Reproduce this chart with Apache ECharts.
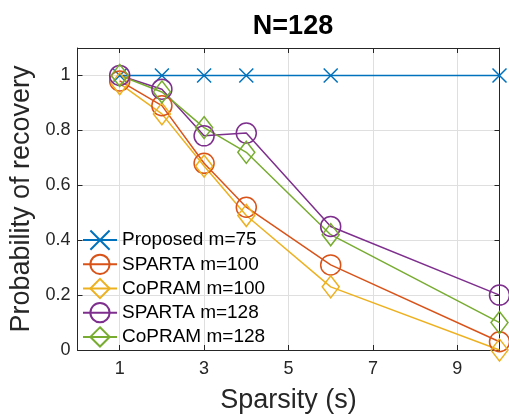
<!DOCTYPE html>
<html lang="en">
<head>
<meta charset="UTF-8">
<title>N=128</title>
<script src="https://cdn.jsdelivr.net/npm/echarts@6/dist/echarts.min.js"></script>
<style>
  html, body { margin: 0; padding: 0; background: #fff; }
</style>
</head>
<body>
<div id="main" style="width: 509px;height: 420px"></div>
<script type="text/javascript">
  // data
  var sparsity = [1, 2, 3, 4, 6, 10];
  var proposed75 = [1, 1, 1, 1, 1, 1];
  var sparta100 = [0.98, 0.89, 0.68, 0.52, 0.31, 0.03];
  var copram100 = [0.97, 0.86, 0.67, 0.49, 0.23, 0.00];
  var sparta128 = [1.00, 0.95, 0.78, 0.79, 0.45, 0.20];
  var copram128 = [1.00, 0.94, 0.81, 0.72, 0.42, 0.10];
  var xTicks = [1, 3, 5, 7, 9];
  var yTicks = [0, 0.2, 0.4, 0.6, 0.8, 1];

  var font = 'Liberation Sans';
  var axisColor = '#262626';
  var crossPath = 'path://M0,0L10,10M10,0L0,10';

  function pairs(vals) {
    return sparsity.map(function (x, i) { return [x, vals[i]]; });
  }

  function makeSeries(name, vals, color, symbol, size) {
    return {
      name: name,
      type: 'line',
      data: pairs(vals),
      clip: false,
      symbol: symbol,
      symbolSize: size,
      showAllSymbol: true,
      lineStyle: {color: color, width: 1.5},
      itemStyle: {color: 'none', borderColor: color, borderWidth: 1.5},
      emphasis: {disabled: true}
    };
  }

  var myChart = echarts.init(document.getElementById('main'));
  var option = {
    animation: false,
    title: {
      text: 'N=128',
      left: 288,
      textAlign: 'center',
      top: 8,
      textStyle: {fontFamily: font, fontSize: 27, fontWeight: 'bold', color: '#000'}
    },
    legend: {
      left: 80,
      top: 228,
      orient: 'vertical',
      itemWidth: 34,
      itemHeight: 24,
      itemGap: 0,
      padding: [0, 2, 0, 2],
      textStyle: {fontFamily: font, fontSize: 19, color: '#000'},
      data: ['Proposed m=75', 'SPARTA m=100', 'CoPRAM m=100', 'SPARTA m=128', 'CoPRAM m=128']
    },
    grid: {left: 77.5, right: 9.5, top: 48, bottom: 70, outerBoundsMode: 'none', containLabel: false},
    xAxis: [
      {
        type: 'value', min: 0, max: 10,
        name: 'Sparsity (s)', nameLocation: 'middle', nameGap: 37,
        nameTextStyle: {fontFamily: font, fontSize: 27, color: axisColor},
        axisLine: {onZero: false, lineStyle: {color: axisColor, width: 1}},
        axisTick: {inside: true, length: 5, customValues: xTicks, lineStyle: {color: axisColor}},
        axisLabel: {customValues: xTicks, fontFamily: font, fontSize: 18, color: axisColor, margin: 10},
        splitLine: {show: true, customValues: xTicks, lineStyle: {color: '#dfdfdf', width: 1}}
      },
      {
        type: 'value', min: 0, max: 10, position: 'top',
        axisLine: {onZero: false, lineStyle: {color: axisColor, width: 1}},
        axisTick: {inside: true, length: 5, customValues: xTicks, lineStyle: {color: axisColor}},
        axisLabel: {show: false},
        splitLine: {show: false}
      }
    ],
    yAxis: [
      {
        type: 'value', min: 0, max: 1.1,
        name: 'Probability of recovery', nameLocation: 'middle', nameGap: 39,
        nameTextStyle: {fontFamily: font, fontSize: 27, color: axisColor},
        axisLine: {show: true, onZero: false, lineStyle: {color: axisColor, width: 1}},
        axisTick: {show: true, inside: true, length: 5, customValues: yTicks, lineStyle: {color: axisColor}},
        axisLabel: {customValues: yTicks, fontFamily: font, fontSize: 18, color: axisColor, margin: 7},
        splitLine: {show: true, customValues: yTicks, lineStyle: {color: '#dfdfdf', width: 1}}
      },
      {
        type: 'value', min: 0, max: 1.1, position: 'right',
        axisLine: {show: true, onZero: false, lineStyle: {color: axisColor, width: 1}},
        axisTick: {show: true, inside: true, length: 5, customValues: yTicks, lineStyle: {color: axisColor}},
        axisLabel: {show: false},
        splitLine: {show: false}
      }
    ],
    series: [
      makeSeries('Proposed m=75', proposed75, '#0072BD', crossPath, 14),
      makeSeries('SPARTA m=100', sparta100, '#D95319', 'circle', 20),
      makeSeries('CoPRAM m=100', copram100, '#EDB120', 'diamond', [17, 22]),
      makeSeries('SPARTA m=128', sparta128, '#7E2F8E', 'circle', 20),
      makeSeries('CoPRAM m=128', copram128, '#77AC30', 'diamond', [17, 22])
    ]
  };
  myChart.setOption(option);
</script>
</body>
</html>
